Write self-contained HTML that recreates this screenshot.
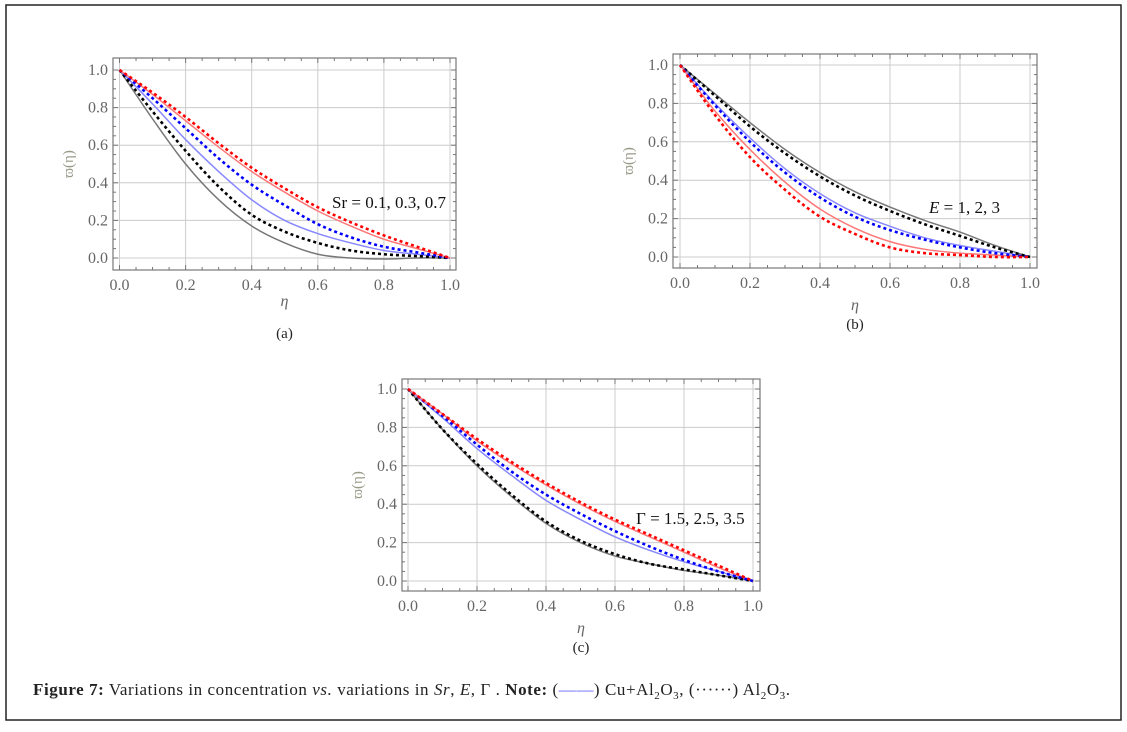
<!DOCTYPE html>
<html><head><meta charset="utf-8"><style>
body{margin:0;background:#fff;width:1127px;height:727px;overflow:hidden}
svg text{font-family:"Liberation Serif",serif}
</style></head><body>
<svg id="fig" width="1127" height="727" xmlns="http://www.w3.org/2000/svg">
<rect x="6" y="5" width="1115" height="715" fill="none" stroke="#222" stroke-width="1.5"/>
<text x="33" y="695" font-size="17" fill="#222" textLength="757" lengthAdjust="spacing"><tspan font-weight="bold">Figure 7:</tspan> Variations in concentration <tspan font-style="italic">vs.</tspan> variations in <tspan font-style="italic">Sr</tspan>, <tspan font-style="italic">E</tspan>, Γ . <tspan font-weight="bold">Note:</tspan> (<tspan fill="#66f">——</tspan>) Cu+Al<tspan font-size="11" dy="4">2</tspan><tspan dy="-4">O</tspan><tspan font-size="11" dy="4">3</tspan><tspan dy="-4">, (······) Al</tspan><tspan font-size="11" dy="4">2</tspan><tspan dy="-4">O</tspan><tspan font-size="11" dy="4">3</tspan><tspan dy="-4">.</tspan></text>
</svg>
<script>
const etas=[0,0.1,0.2,0.3,0.4,0.5,0.6,0.7,0.8,0.9,1.0];
const xTicks=[0,0.2,0.4,0.6,0.8,1.0];
const yTicks=[0,0.2,0.4,0.6,0.8,1.0];
const tickLabels=["0.0","0.2","0.4","0.6","0.8","1.0"];
// panel a
const aGray=[1,.74,.50,.31,.17,.08,.02,0,-.005,0,0];
const aBlackDot=[1,.78,.57,.38,.23,.14,.08,.04,.02,.01,0];
const aBlue=[1,.82,.63,.46,.31,.20,.13,.08,.04,.02,0];
const aBlueDot=[1,.85,.69,.53,.39,.28,.18,.11,.06,.03,0];
const aRed=[1,.87,.73,.59,.46,.35,.25,.17,.10,.05,0];
const aRedDot=[1,.88,.75,.61,.48,.37,.27,.19,.12,.06,0];
// panel b
const bGray=[1,.85,.70,.56,.44,.34,.26,.19,.13,.06,0];
const bBlackDot=[1,.84,.68,.54,.42,.32,.24,.17,.11,.05,0];
const bBlue=[1,.80,.62,.46,.33,.23,.16,.10,.06,.03,0];
const bBlueDot=[1,.79,.60,.44,.31,.21,.14,.09,.05,.02,0];
const bRed=[1,.76,.56,.39,.25,.15,.08,.04,.02,.01,0];
const bRedDot=[1,.74,.52,.35,.21,.12,.05,.02,.01,0,0];
// panel c
const cGray=[1,.79,.60,.44,.30,.20,.13,.09,.055,.03,0];
const cBlackDot=[1,.79,.61,.45,.31,.21,.14,.09,.06,.03,0];
const cBlue=[1,.85,.69,.55,.42,.32,.23,.16,.10,.05,0];
const cBlueDot=[1,.86,.71,.57,.45,.35,.26,.18,.11,.05,0];
const cRed=[1,.87,.73,.61,.50,.40,.31,.23,.15,.07,0];
const cRedDot=[1,.87,.74,.62,.51,.41,.32,.24,.16,.08,0];

const NS="http://www.w3.org/2000/svg";
const svg=document.getElementById('fig');
function mk(tag,attrs,parent){const e=document.createElementNS(NS,tag);for(const k in attrs)e.setAttribute(k,attrs[k]);(parent||svg).appendChild(e);return e;}

function panel(id,fr,x0,x1,y0,y1,series,legend,legX,legY,sub,subY,etaY){
  const g=mk('g',{});
  
  
  const X=v=>x0+(x1-x0)*v, Y=v=>y0+(y1-y0)*v;
  xTicks.forEach(v=>{const l=mk('line',{x1:X(v),x2:X(v),y1:fr[1],y2:fr[3],stroke:'#ccc','stroke-width':1},g);
    
    });
  yTicks.forEach(v=>{const l=mk('line',{x1:fr[0],x2:fr[2],y1:Y(v),y2:Y(v),stroke:'#ccc','stroke-width':1},g);
    
    });
  const f=mk('rect',{x:fr[0],y:fr[1],width:fr[2]-fr[0],height:fr[3]-fr[1],fill:'none',stroke:'#777','stroke-width':1.2},g);
  
  
  for(let v=0;v<=1.0001;v+=0.05){const big=Math.abs(v*5-Math.round(v*5))<1e-6;const L=big?5:3;
    mk('line',{x1:X(v),x2:X(v),y1:fr[3],y2:fr[3]-L,stroke:'#777'},g);mk('line',{x1:X(v),x2:X(v),y1:fr[1],y2:fr[1]+L,stroke:'#777'},g);
    mk('line',{x1:fr[0],x2:fr[0]+L,y1:Y(v),y2:Y(v),stroke:'#777'},g);mk('line',{x1:fr[2],x2:fr[2]-L,y1:Y(v),y2:Y(v),stroke:'#777'},g);}
  xTicks.forEach((v,i)=>{const t=mk('text',{x:X(v),y:fr[3]+20,'font-size':16,fill:'#666','text-anchor':'middle'},g);t.textContent=tickLabels[i];
    
    });
  yTicks.forEach((v,i)=>{const t=mk('text',{x:fr[0]-5,y:Y(v)+5,'font-size':16,fill:'#666','text-anchor':'end'},g);t.textContent=tickLabels[i];
    
    });
  const yl=mk('text',{x:0,y:0,'font-size':15,fill:'#998','text-anchor':'middle',transform:`translate(${fr[0]-40},${(fr[1]+fr[3])/2}) rotate(-90)`},g);
  yl.textContent='ϖ(η)';
  
  
  const xl=mk('text',{x:(fr[0]+fr[2])/2,y:etaY,'font-size':16,fill:'#666','font-style':'italic','text-anchor':'middle'},g);
  xl.textContent='η';
  
  
  series.forEach(s=>{
    const pts=etas.map((e,i)=>[X(e),Y(s.vals[i])]);
    let d=`M${pts[0][0]},${pts[0][1]}`;
    for(let i=0;i<pts.length-1;i++){const p0=pts[Math.max(0,i-1)],p1=pts[i],p2=pts[i+1],p3=pts[Math.min(pts.length-1,i+2)];
      d+=` C${p1[0]+(p2[0]-p0[0])/6},${p1[1]+(p2[1]-p0[1])/6} ${p2[0]-(p3[0]-p1[0])/6},${p2[1]-(p3[1]-p1[1])/6} ${p2[0]},${p2[1]}`;}
    const p=mk('path',{d:d,fill:'none',stroke:s.c,'stroke-width':s.dot?2.6:1.5,'stroke-dasharray':s.dot?'3,3':'none'},g);
    
    
  });
  const lt=mk('text',{x:legX,y:legY,'font-size':17,fill:'#111'},g);
  lt.innerHTML=legend;
  
  
  const st=mk('text',{x:(fr[0]+fr[2])/2,y:subY,'font-size':15,fill:'#222','text-anchor':'middle'},g);
  st.textContent=sub;
  
  
}
function ser(gr,bd,bl,bld,r,rd){return [
  {vals:gr,c:'#777',name:'gray-solid-curve'},{vals:bl,c:'#88f',name:'blue-solid-curve'},{vals:r,c:'#f77',name:'red-solid-curve'},
  {vals:bd,c:'#000',dot:1,name:'black-dotted-curve'},{vals:bld,c:'#00f',dot:1,name:'blue-dotted-curve'},{vals:rd,c:'#f00',dot:1,name:'red-dotted-curve'}];}
panel('a',[113,58,456,270],119.5,450,258,70,ser(aGray,aBlackDot,aBlue,aBlueDot,aRed,aRedDot),'Sr = 0.1, 0.3, 0.7',332,208,'(a)',338,306);
panel('b',[673,54,1037,268],680,1030,257,65,ser(bGray,bBlackDot,bBlue,bBlueDot,bRed,bRedDot),'<tspan font-style="italic">E</tspan> = 1, 2, 3',929,213,'(b)',329,310);
panel('c',[402,379,760,591],408,753,581,389,ser(cGray,cBlackDot,cBlue,cBlueDot,cRed,cRedDot),'Γ = 1.5, 2.5, 3.5',636,524,'(c)',652,633);
</script>
</body></html>
